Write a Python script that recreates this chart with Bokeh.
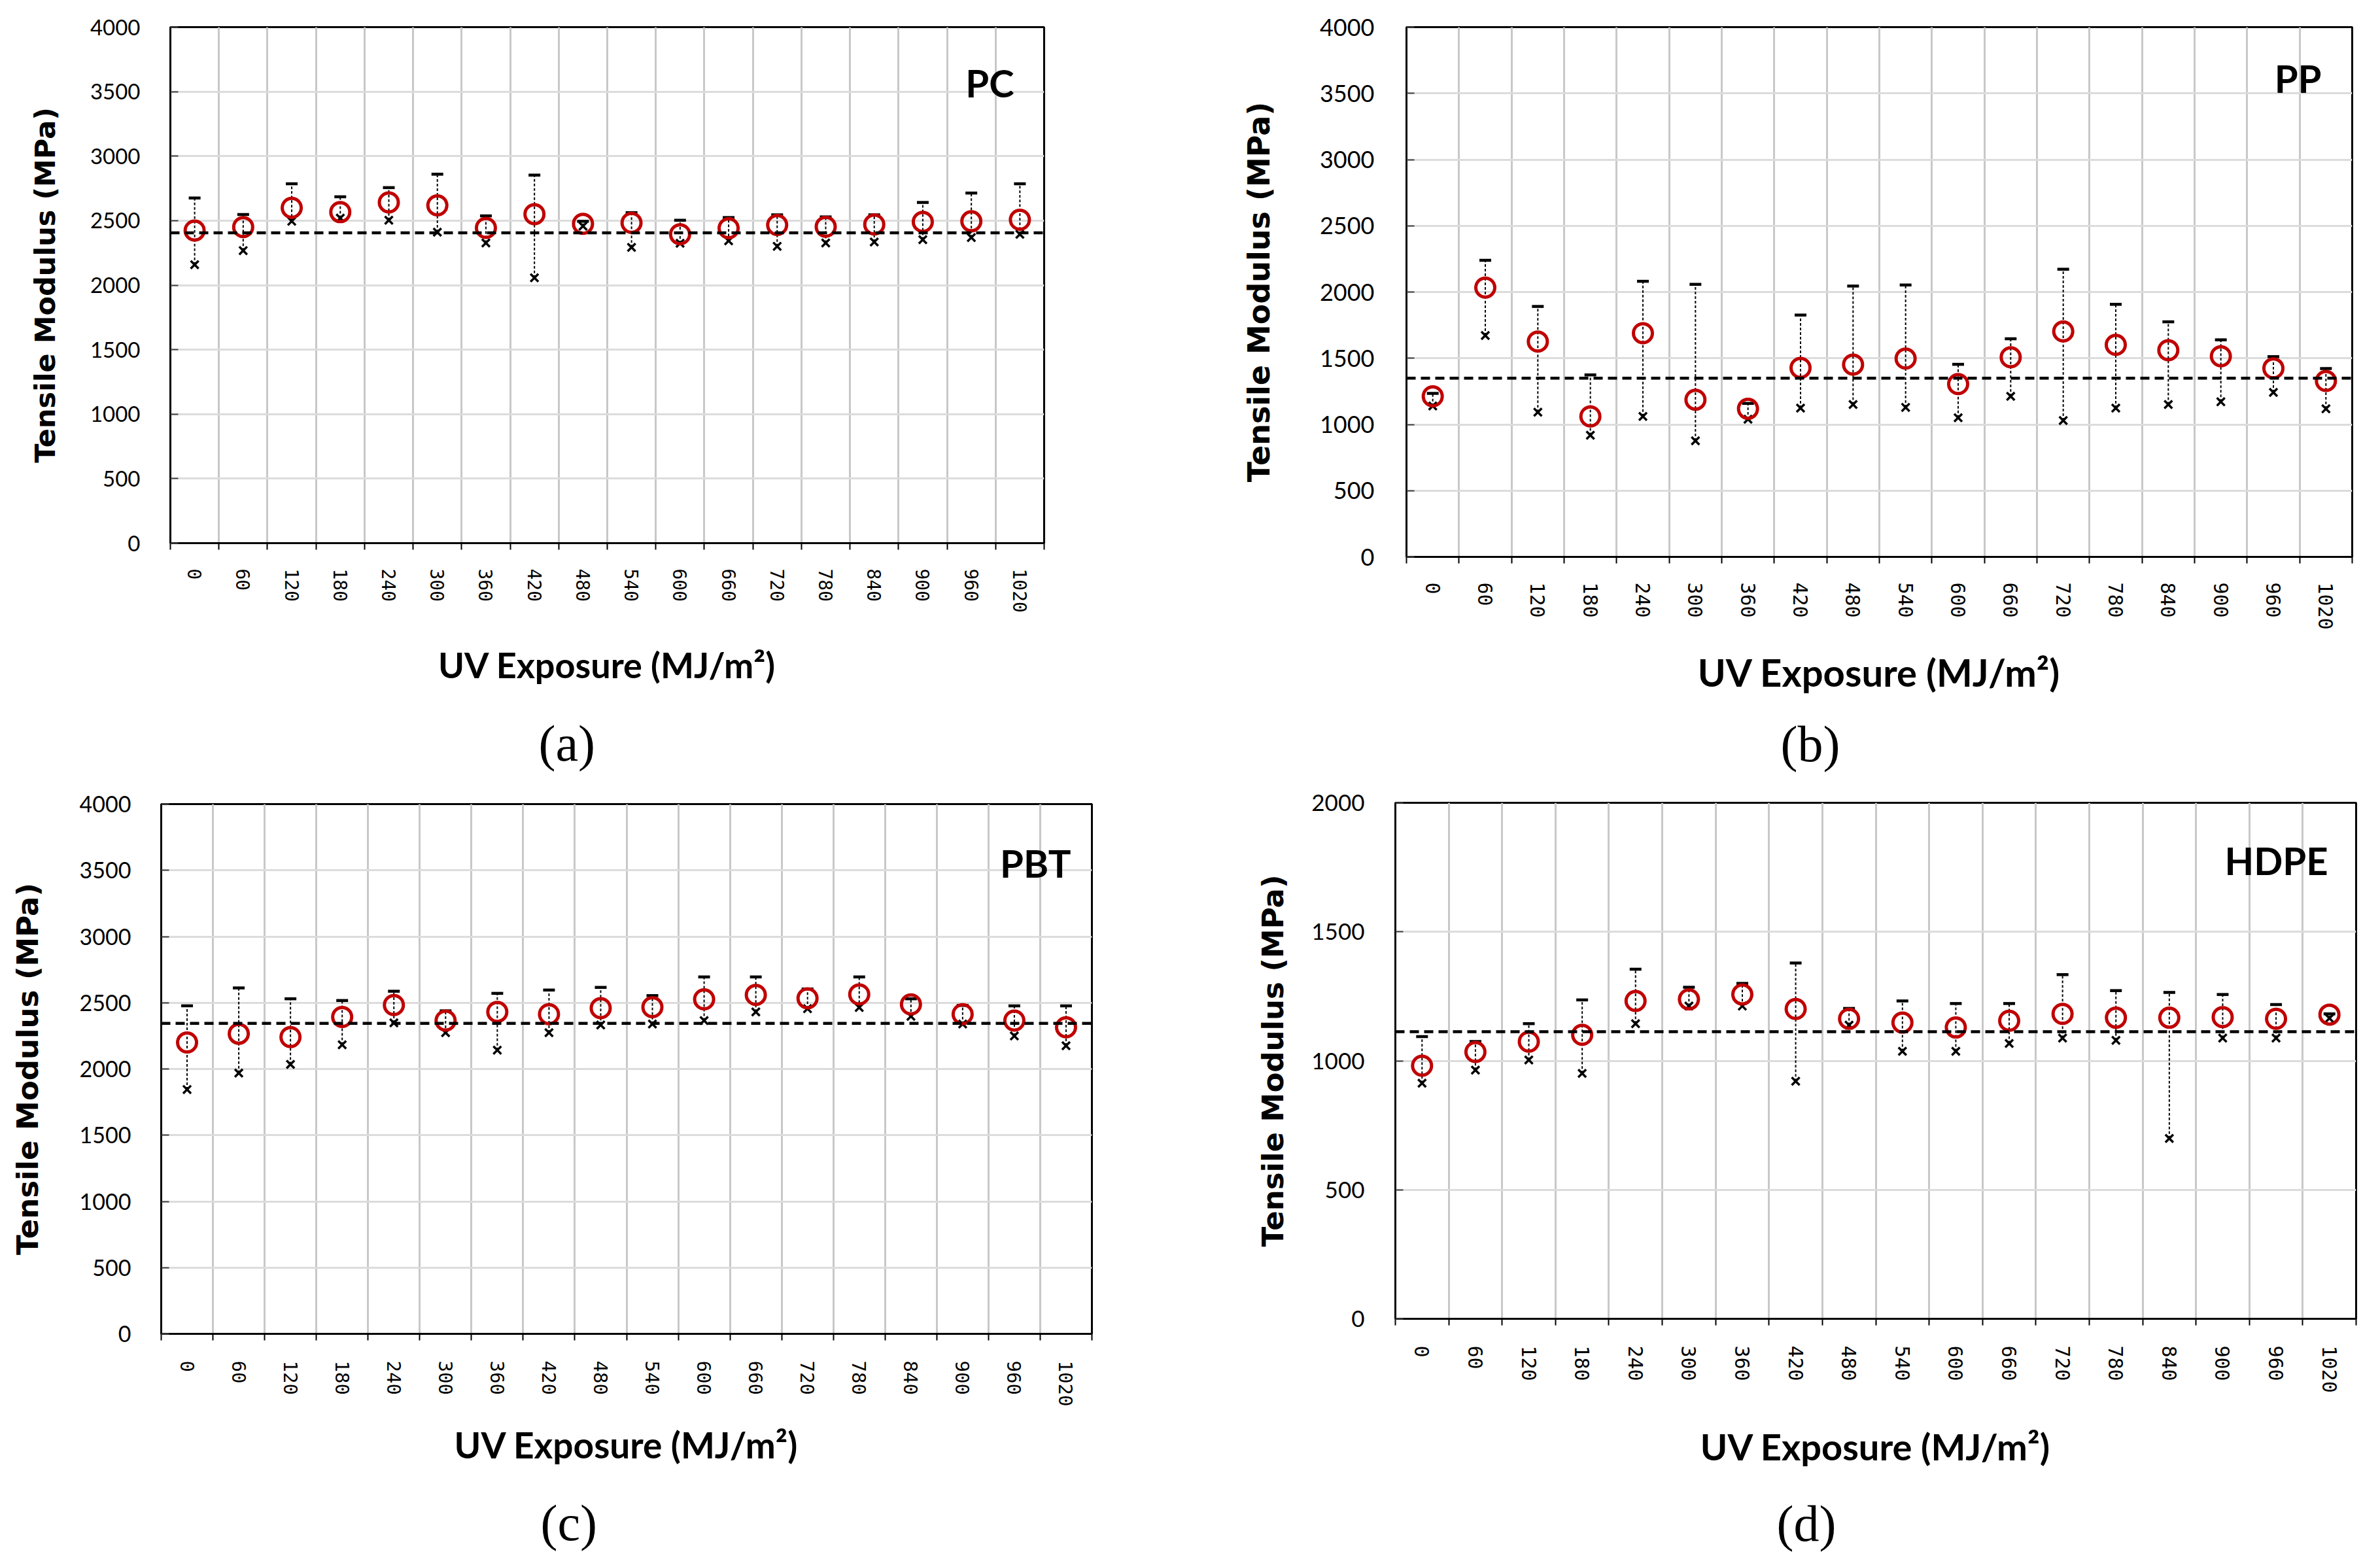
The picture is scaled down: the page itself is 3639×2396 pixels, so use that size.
from bokeh.plotting import figure
from bokeh.layouts import column, row
from bokeh.models import FixedTicker, Range1d, Span, Label, Title
from bokeh.embed import file_html
from bokeh.resources import INLINE

# ---------------- data ----------------
uv = [0, 60, 120, 180, 240, 300, 360, 420, 480, 540, 600, 660, 720, 780, 840, 900, 960, 1020]

pc_max = [2675, 2547, 2786, 2685, 2756, 2860, 2537, 2853, 2495, 2562, 2503, 2524, 2545, 2529, 2545, 2641, 2714, 2786]
pc_mean = [2423, 2450, 2599, 2566, 2641, 2618, 2444, 2550, 2475, 2483, 2394, 2441, 2466, 2453, 2470, 2490, 2495, 2507]
pc_min = [2158, 2268, 2495, 2520, 2503, 2411, 2327, 2057, 2458, 2293, 2325, 2343, 2301, 2327, 2335, 2352, 2369, 2394]
pc_ref = 2405

pp_max = [1235, 2240, 1891, 1374, 2081, 2058, 1159, 1826, 2045, 2053, 1454, 1647, 2172, 1907, 1775, 1639, 1512, 1422]
pp_mean = [1212, 2033, 1626, 1060, 1689, 1187, 1118, 1427, 1452, 1498, 1305, 1507, 1702, 1601, 1561, 1515, 1424, 1328]
pp_min = [1140, 1672, 1093, 919, 1060, 877, 1040, 1123, 1151, 1129, 1051, 1212, 1030, 1123, 1151, 1171, 1242, 1118]
pp_ref = 1350

pbt_max = [2477, 2612, 2530, 2517, 2587, 2439, 2571, 2596, 2616, 2554, 2695, 2695, 2604, 2695, 2530, 2480, 2477, 2477]
pbt_mean = [2200, 2266, 2241, 2393, 2483, 2365, 2431, 2414, 2459, 2467, 2526, 2559, 2533, 2563, 2488, 2414, 2365, 2315]
pbt_min = [1845, 1969, 2035, 2183, 2348, 2274, 2142, 2274, 2332, 2340, 2365, 2431, 2455, 2464, 2398, 2340, 2249, 2175]
pbt_ref = 2345

hdpe_max = [1094, 1075, 1144, 1236, 1355, 1285, 1300, 1379, 1203, 1232, 1222, 1222, 1334, 1272, 1265, 1257, 1218, 1182]
hdpe_mean = [981, 1034, 1074, 1101, 1232, 1238, 1257, 1201, 1163, 1148, 1129, 1155, 1182, 1167, 1167, 1169, 1163, 1179]
hdpe_min = [913, 964, 1003, 951, 1144, 1212, 1212, 921, 1138, 1037, 1037, 1067, 1088, 1079, 699, 1088, 1088, 1165]
hdpe_ref = 1113

y_title = "Tensile Modulus (MPa)"
x_title = "UV Exposure (MJ/m\u00b2)"

RED = "#C00000"


def panel(name, caption, ymax, vmax, vmean, vmin, ref, W, H, bl, br, bt, bb,
          s, ytick_fs, ytick_standoff, ylab_standoff, xtick_fs, xtick_standoff,
          xlab_fs, xlab_standoff, name_dx, name_dy, cap_dx, gap):
    half = (uv[1] - uv[0]) / 2
    p = figure(width=W, height=H, title=None,
               x_range=Range1d(uv[0] - half, uv[-1] + half),
               y_range=Range1d(0, ymax),
               output_backend="svg", toolbar_location=None,
               min_border_left=bl, min_border_right=br,
               min_border_top=bt, min_border_bottom=bb)
    p.frame_align = False
    p.background_fill_color = "white"
    p.border_fill_color = "white"
    p.outline_line_color = "black"
    p.outline_line_width = 3

    # x axis
    bounds = [u - half for u in uv] + [uv[-1] + half]
    p.xaxis.ticker = FixedTicker(ticks=uv, minor_ticks=bounds)
    p.xaxis.major_label_orientation = "vertical"
    p.xaxis.major_tick_out = 0
    p.xaxis.major_tick_in = 0
    p.xaxis.minor_tick_out = 10
    p.xaxis.minor_tick_in = 0
    p.xaxis.minor_tick_line_color = "black"
    p.xaxis.minor_tick_line_width = 2
    p.xaxis.axis_line_color = "black"
    p.xaxis.axis_line_width = 3
    p.xaxis.major_label_text_font = "DejaVu Sans Mono"
    p.xaxis.major_label_text_font_size = f"{xtick_fs}px"
    p.xaxis.major_label_text_color = "black"
    p.xaxis.major_label_standoff = xtick_standoff
    p.xaxis.axis_label = x_title
    p.xaxis.axis_label_text_font = "Lato"
    p.xaxis.axis_label_text_font_style = "bold"
    p.xaxis.axis_label_text_font_size = f"{xlab_fs}px"
    p.xaxis.axis_label_text_color = "black"
    p.xaxis.axis_label_standoff = xlab_standoff

    p.xgrid.grid_line_color = None
    p.xgrid.minor_grid_line_color = "#c8c8c8"
    p.xgrid.minor_grid_line_width = 3

    # y axis
    p.yaxis.ticker = FixedTicker(ticks=list(range(0, ymax + 1, 500)))
    p.yaxis.major_tick_out = 0
    p.yaxis.major_tick_in = 12
    p.yaxis.major_tick_line_color = "#404040"
    p.yaxis.major_tick_line_width = 2
    p.yaxis.minor_tick_out = 0
    p.yaxis.minor_tick_in = 0
    p.yaxis.axis_line_color = "black"
    p.yaxis.axis_line_width = 3
    p.yaxis.major_label_text_font = "Lato"
    p.yaxis.major_label_text_font_size = f"{ytick_fs}px"
    p.yaxis.major_label_text_color = "black"
    p.yaxis.major_label_standoff = ytick_standoff
    p.yaxis.axis_label = y_title
    p.yaxis.axis_label_text_font = "DejaVu Sans"
    p.yaxis.axis_label_text_font_style = "bold"
    p.yaxis.axis_label_text_font_size = f"{s}px"
    p.yaxis.axis_label_text_color = "black"
    p.yaxis.axis_label_standoff = ylab_standoff
    p.ygrid.grid_line_color = "#dcdcdc"
    p.ygrid.grid_line_width = 3

    # reference dashed line
    p.add_layout(Span(location=ref, dimension="width", line_color="black",
                      line_width=4.5, line_dash="14 8"))

    # range lines, caps, minima and means
    p.segment(x0=uv, y0=vmin, x1=uv, y1=vmax, line_color="black",
              line_width=2, line_dash="4 3")
    p.scatter(x=uv, y=vmax, marker="dash", size=18, line_width=4.5,
              line_color="black")
    p.scatter(x=uv, y=vmin, marker="x", size=17, line_width=3.5,
              line_color="black")
    p.scatter(x=uv, y=vmean, marker="circle", size=29, fill_color=None,
              line_color=RED, line_width=5)

    p.add_layout(Label(x=uv[-1] + half, y=ymax, x_offset=-name_dx, y_offset=-name_dy,
                       text=name, text_align="right", text_baseline="top",
                       text_font="Lato", text_font_style="bold",
                       text_font_size="58px", text_color="black"))

    # spacer between axis title and panel caption, then the caption
    p.add_layout(Title(text=" ", text_font_size="2px", standoff=gap), "below")
    p.add_layout(Title(text=caption, align="left", offset=cap_dx,
                       text_font="Liberation Serif", text_font_style="normal",
                       text_font_size="78px", text_color="black",
                       standoff=0), "below")
    return p


H1 = 1204
H2 = 2380 - H1
pa = panel("PC", "(a)", 4000, pc_max, pc_mean, pc_min, pc_ref,
           1815, H1, 260, 219, 41, H1 - 41 - 789,
           43, 33, 46, 41, 28, 29, 54, 44, 46, 50, 563, 35)
pb = panel("PP", "(b)", 4000, pp_max, pp_mean, pp_min, pp_ref,
           1808, H1, 335, 27, 41, H1 - 41 - 810,
           46, 36, 49, 63, 30, 29, 58, 27, 47, 43, 572, 23)
pc = panel("PBT", "(c)", 4000, pbt_max, pbt_mean, pbt_min, pbt_ref,
           1815, H2, 246, 146, 25, H2 - 25 - 810,
           45, 34, 46, 50, 29, 31, 55, 23, 32, 55, 580, 33)
pd = panel("HDPE", "(d)", 2000, hdpe_max, hdpe_mean, hdpe_min, hdpe_ref,
           1808, H2, 318, 21, 23, H2 - 23 - 789,
           45, 35, 47, 29, 30, 31, 56, 45, 43, 53, 583, 32)

layout = column(row(pa, pb), row(pc, pd))
open("out.html", "w").write(file_html(layout, INLINE))
